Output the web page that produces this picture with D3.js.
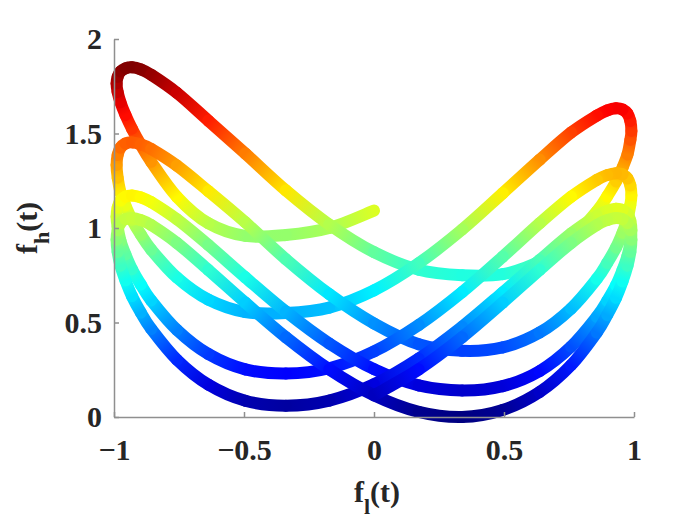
<!DOCTYPE html>
<html lang="en">
<head>
<meta charset="UTF-8">
<title>f_h(t) vs f_l(t)</title>
<script src="https://cdn.jsdelivr.net/npm/d3@7"></script>
<style>
body { margin: 0; background: #fff; }
text { font-family: "Liberation Serif", "Times New Roman", serif; font-weight: bold; fill: #262626; }
</style>
</head>
<body>
<svg id="chart" width="700" height="525"></svg>
<script>
// trajectory, one array per half swing, [f_l, f_h]
var pass0 = [[0.000,1.092],[-0.172,1.000],[-0.339,0.963],[-0.495,0.958],[-0.637,1.025],[-0.758,1.165],[-0.857,1.350],
  [-0.897,1.440],[-0.931,1.525],[-0.956,1.598],[-0.975,1.665],[-0.986,1.720]];
var pass1 = [[-0.990,1.765],[-0.986,1.800],[-0.975,1.828],[-0.956,1.845],[-0.931,1.850],[-0.897,1.839],[-0.857,1.811],
  [-0.758,1.715],[-0.637,1.568],[-0.495,1.394],[-0.339,1.199],[-0.172,1.018],[0.000,0.872],[0.172,0.779],[0.339,0.750],
  [0.495,0.756],[0.637,0.823],[0.758,0.940],[0.857,1.088],[0.897,1.168],[0.931,1.246],[0.956,1.320],[0.975,1.389],[0.986,1.466]];
var pass2 = [[0.990,1.513],[0.986,1.566],[0.975,1.605],[0.956,1.627],[0.931,1.633],[0.897,1.622],[0.857,1.595],
  [0.758,1.505],[0.637,1.361],[0.495,1.184],[0.339,0.992],[0.172,0.814],[0.000,0.670],[-0.172,0.579],[-0.339,0.550],
  [-0.495,0.555],[-0.637,0.621],[-0.758,0.738],[-0.857,0.886],[-0.897,0.965],[-0.931,1.044],[-0.956,1.119],[-0.975,1.189],[-0.986,1.266]];
var pass3 = [[-0.990,1.333],[-0.986,1.386],[-0.975,1.425],[-0.956,1.447],[-0.931,1.453],[-0.897,1.442],[-0.857,1.418],
  [-0.758,1.330],[-0.637,1.195],[-0.495,1.030],[-0.339,0.835],[-0.172,0.650],[0.000,0.495],[0.172,0.385],[0.339,0.350],
  [0.495,0.368],[0.637,0.447],[0.758,0.574],[0.857,0.731],[0.897,0.815],[0.931,0.897],[0.956,0.975],[0.975,1.048],[0.986,1.123]];
var pass4 = [[0.990,1.173],[0.986,1.225],[0.975,1.262],[0.956,1.284],[0.931,1.290],[0.897,1.280],[0.857,1.255],
  [0.758,1.165],[0.637,1.025],[0.495,0.848],[0.339,0.661],[0.172,0.487],[0.000,0.347],[-0.172,0.258],[-0.339,0.230],
  [-0.495,0.252],[-0.637,0.333],[-0.758,0.461],[-0.857,0.617],[-0.897,0.701],[-0.931,0.782],[-0.956,0.860],[-0.975,0.932],[-0.986,1.005]];
var pass5 = [[-0.990,1.060],[-0.986,1.108],[-0.975,1.145],[-0.956,1.166],[-0.931,1.172],[-0.897,1.162],[-0.857,1.137],
  [-0.758,1.046],[-0.637,0.910],[-0.495,0.739],[-0.339,0.558],[-0.172,0.389],[0.000,0.253],[0.172,0.167],[0.339,0.140],
  [0.495,0.163],[0.637,0.243],[0.758,0.372],[0.857,0.530],[0.897,0.614],[0.931,0.697],[0.956,0.778],[0.975,0.852],[0.986,0.925]];
var pass6 = [[0.990,0.988],[0.986,1.038],[0.975,1.075],[0.956,1.096],[0.931,1.102],[0.897,1.091],[0.857,1.065],
  [0.758,0.971],[0.637,0.830],[0.495,0.659],[0.339,0.478],[0.172,0.309],[0.000,0.173],[-0.172,0.087],[-0.339,0.060],
  [-0.495,0.086],[-0.637,0.171],[-0.758,0.303],[-0.857,0.466],[-0.897,0.553],[-0.931,0.640],[-0.956,0.723],[-0.975,0.801],[-0.986,0.874]];
var pass7 = [[-0.990,0.938],[-0.986,0.989],[-0.975,1.026],[-0.956,1.047],[-0.931,1.053],[-0.897,1.042],[-0.857,1.016],
  [-0.758,0.921],[-0.637,0.778],[-0.495,0.605],[-0.339,0.422],[-0.172,0.252],[0.000,0.115],[0.172,0.027],[0.339,0.000],
  [0.495,0.037],[0.637,0.132],[0.758,0.274],[0.857,0.447],[0.897,0.540],[0.931,0.631],[0.956,0.718],[0.975,0.801],[0.986,0.874]];
var pass8 = [[0.990,0.938],[0.986,0.989],[0.975,1.026],[0.956,1.047],[0.931,1.053],[0.897,1.042],[0.857,1.016],
  [0.758,0.921],[0.637,0.778],[0.495,0.605],[0.339,0.422],[0.172,0.252],[0.000,0.115]];

var xTicks = [-1, -0.5, 0, 0.5, 1];
var yTicks = [0, 0.5, 1, 1.5, 2];

var path = [].concat(pass0, pass1, pass2, pass3, pass4, pass5, pass6, pass7, pass8);

var svg = d3.select("#chart");
var x = d3.scaleLinear().domain([-1, 1]).range([114, 634]);
var y = d3.scaleLinear().domain([0, 2]).range([417, 39]);

// matlab jet
function jet(t) {
  function c(v) { return Math.max(0, Math.min(1, v)); }
  var r = c(1.5 - Math.abs(4 * t - 3)), g = c(1.5 - Math.abs(4 * t - 2)), b = c(1.5 - Math.abs(4 * t - 1));
  return d3.rgb(r * 255, g * 255, b * 255);
}
var color = d3.scaleLinear().domain(d3.extent(path, function(d) { return d[1]; })).range([0, 1]).clamp(true);

var defs = svg.append("defs");
var plot = svg.append("g");
var n = path.length;
for (var i = 0; i < n - 1; i++) {
  var p0 = path[Math.max(0, i - 1)], p1 = path[i], p2 = path[i + 1], p3 = path[Math.min(n - 1, i + 2)];
  var ax = x(p1[0]), ay = y(p1[1]), bx = x(p2[0]), by = y(p2[1]);
  var c1x = ax + (bx - x(p0[0])) / 6, c1y = ay + (by - y(p0[1])) / 6;
  var c2x = bx - (x(p3[0]) - ax) / 6, c2y = by - (y(p3[1]) - ay) / 6;
  var lg = defs.append("linearGradient").attr("id", "g" + i).attr("gradientUnits", "userSpaceOnUse")
    .attr("x1", ax).attr("y1", ay).attr("x2", bx).attr("y2", by);
  lg.append("stop").attr("offset", 0).attr("stop-color", jet(color(p1[1])));
  lg.append("stop").attr("offset", 1).attr("stop-color", jet(color(p2[1])));
  plot.append("path")
    .attr("d", "M" + ax + "," + ay + "C" + c1x + "," + c1y + " " + c2x + "," + c2y + " " + bx + "," + by)
    .attr("fill", "none").attr("stroke", "url(#g" + i + ")")
    .attr("stroke-width", 12).attr("stroke-linecap", "round");
}

// axes
var axisColor = "#8f8f8f";
var xAxis = svg.append("g").attr("transform", "translate(0,417)")
  .call(d3.axisBottom(x).tickValues(xTicks).tickSizeInner(-5).tickSizeOuter(0).tickPadding(22).tickFormat(d3.format("")));
var yAxis = svg.append("g").attr("transform", "translate(114,0)")
  .call(d3.axisLeft(y).tickValues(yTicks).tickSizeInner(-5).tickSizeOuter(0).tickPadding(12).tickFormat(d3.format("")));
[xAxis, yAxis].forEach(function(a) {
  a.select(".domain").attr("stroke", axisColor).attr("stroke-width", 1.5);
  a.selectAll(".tick line").attr("stroke", axisColor).attr("stroke-width", 1.5);
  a.selectAll(".tick text").attr("font-size", 30).attr("fill", "#262626")
    .attr("font-family", "Liberation Serif").attr("font-weight", "bold");
});
xAxis.selectAll(".tick text").attr("dy", "0.71em");

var xl = svg.append("text").attr("x", 377).attr("y", 502).attr("text-anchor", "middle").attr("font-size", 30);
xl.append("tspan").text("f");
xl.append("tspan").attr("font-size", 22).attr("dy", 12).text("l");
xl.append("tspan").attr("dy", -12).text("(t)");

var yl = svg.append("text").attr("transform", "translate(37,228) rotate(-90)").attr("text-anchor", "middle").attr("font-size", 30);
yl.append("tspan").text("f");
yl.append("tspan").attr("font-size", 22).attr("dy", 12).text("h");
yl.append("tspan").attr("dy", -12).text("(t)");
</script>
</body>
</html>
